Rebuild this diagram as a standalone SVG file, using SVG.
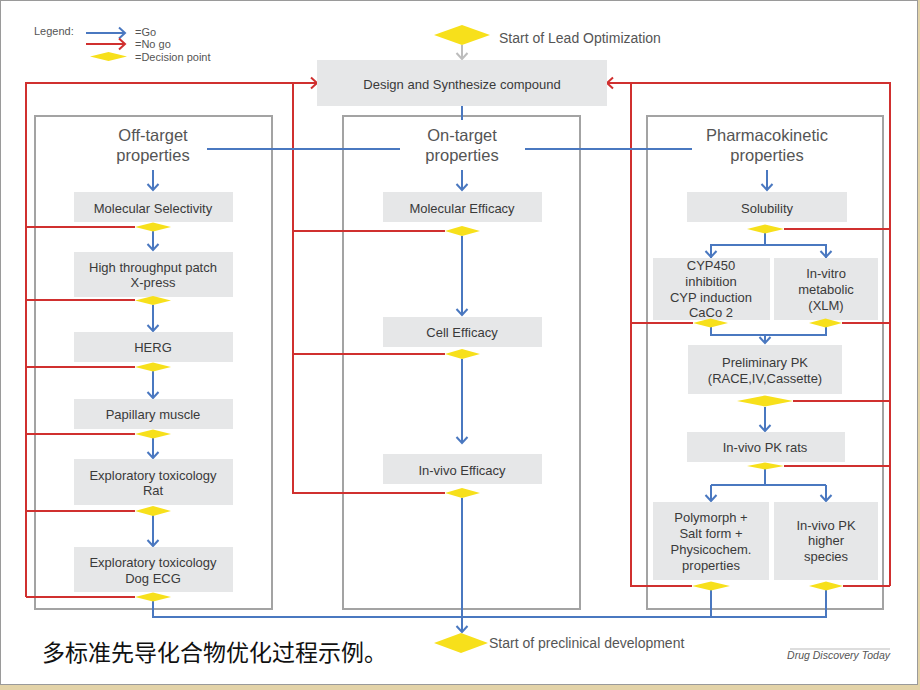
<svg xmlns="http://www.w3.org/2000/svg" width="920" height="690" viewBox="0 0 920 690">
<defs>
<style>
.box{fill:#e6e7e8;stroke:none}
.col{fill:none;stroke:#a3a3a3;stroke-width:2}
.t{font-family:"Liberation Sans",Arial,sans-serif;font-size:13px;fill:#3a3a3a;text-anchor:middle}
.h{font-family:"Liberation Sans",Arial,sans-serif;font-size:16.5px;fill:#555;text-anchor:middle}
.lg{font-family:"Liberation Sans",Arial,sans-serif;font-size:11px;fill:#555}
.big{font-family:"Liberation Sans",Arial,sans-serif;font-size:14px;fill:#555}
.dia{fill:#f7e01b;stroke:none}
.b{fill:none;stroke:#4a78c0;stroke-width:2}
.r{fill:none;stroke:#d0302f;stroke-width:2}
</style>
<marker id="ab" markerWidth="14" markerHeight="14" refX="7" refY="7" orient="auto" markerUnits="userSpaceOnUse" viewBox="0 0 14 14"><path d="M1,1.5 L7,7 L1,12.5" fill="none" stroke="#4a78c0" stroke-width="2"/></marker>
<marker id="ar" markerWidth="14" markerHeight="14" refX="7" refY="7" orient="auto" markerUnits="userSpaceOnUse" viewBox="0 0 14 14"><path d="M1,1.5 L7,7 L1,12.5" fill="none" stroke="#d0302f" stroke-width="2"/></marker>
<marker id="ag" markerWidth="14" markerHeight="14" refX="7" refY="7" orient="auto" markerUnits="userSpaceOnUse" viewBox="0 0 14 14"><path d="M1,1.5 L7,7 L1,12.5" fill="none" stroke="#bdbdbd" stroke-width="2"/></marker>
</defs>

<rect x="0" y="0" width="920" height="690" fill="#e3d3a8"/>
<rect x="0.5" y="0.5" width="917" height="684" fill="#ffffff" stroke="#9a9a9a" stroke-width="1"/>

<g id="legend">
<text class="lg" x="34" y="35">Legend:</text>
<line class="b" x1="86" y1="33" x2="125" y2="33" marker-end="url(#ab)"/>
<line class="r" x1="86" y1="44" x2="125" y2="44" marker-end="url(#ar)"/>
<polygon class="dia" points="90,56.5 108.5,52 127,56.5 108.5,61"/>
<text class="lg" x="135" y="35.5">=Go</text>
<text class="lg" x="135" y="48">=No go</text>
<text class="lg" x="135" y="60.5">=Decision point</text>
</g>

<g id="columns">
<rect class="col" x="35" y="116" width="237" height="493"/>
<rect class="col" x="343" y="116" width="237" height="493"/>
<rect class="col" x="647" y="116" width="236" height="493"/>
</g>

<g id="connectors">
<path class="r" d="M26,597 V83 H317" marker-end="url(#ar)"/>
<path class="r" d="M26,227 H135 M26,300 H135 M26,367 H135 M26,434 H135 M26,511 H135 M26,597 H135"/>
<path class="r" d="M293,83 V493 H445 M293,231 H445 M293,354 H445"/>
<path class="r" d="M890,586 V83 H607" marker-end="url(#ar)"/>
<path class="r" d="M631,83 V586 H692 M631,323 H693"/>
<path class="r" d="M784,229 H890 M842,323 H890 M793,401 H890 M784,466 H890 M843,586 H890"/>
<line x1="462" y1="45" x2="462" y2="59" stroke="#bdbdbd" stroke-width="2" marker-end="url(#ag)"/>
<path class="b" d="M462,106 V120 M207,149 H400 M525,149 H692"/>
<line class="b" x1="153" y1="170" x2="153" y2="190" marker-end="url(#ab)"/>
<line class="b" x1="153" y1="231" x2="153" y2="250" marker-end="url(#ab)"/>
<line class="b" x1="153" y1="305" x2="153" y2="331" marker-end="url(#ab)"/>
<line class="b" x1="153" y1="371" x2="153" y2="398" marker-end="url(#ab)"/>
<line class="b" x1="153" y1="438" x2="153" y2="458" marker-end="url(#ab)"/>
<line class="b" x1="153" y1="515" x2="153" y2="546" marker-end="url(#ab)"/>
<line class="b" x1="462" y1="170" x2="462" y2="190" marker-end="url(#ab)"/>
<line class="b" x1="462" y1="236" x2="462" y2="315" marker-end="url(#ab)"/>
<line class="b" x1="462" y1="359" x2="462" y2="443" marker-end="url(#ab)"/>
<line class="b" x1="462" y1="498" x2="462" y2="632" marker-end="url(#ab)"/>
<line class="b" x1="767" y1="170" x2="767" y2="190" marker-end="url(#ab)"/>
<path class="b" d="M765,233 V245 M711,258 V245 H826 V258"/>
<line class="b" x1="711" y1="245" x2="711" y2="257" marker-end="url(#ab)"/>
<line class="b" x1="826" y1="245" x2="826" y2="257" marker-end="url(#ab)"/>
<path class="b" d="M711,327 V335 H826 V327"/>
<line class="b" x1="765" y1="335" x2="765" y2="343" marker-end="url(#ab)"/>
<line class="b" x1="765" y1="407" x2="765" y2="431" marker-end="url(#ab)"/>
<path class="b" d="M765,469 V485 M711,485 H826"/>
<line class="b" x1="711" y1="485" x2="711" y2="501" marker-end="url(#ab)"/>
<line class="b" x1="826" y1="485" x2="826" y2="501" marker-end="url(#ab)"/>
<path class="b" d="M153,601 V617 H826 V590 M711,590 V617"/>
</g>

<g id="start-lead">
<polygon class="dia" points="434,35 462,25 490,35 462,45"/>
<text class="big" x="499" y="43">Start of Lead Optimization</text>
</g>

<g id="design">
<rect class="box" x="317" y="60" width="290" height="46"/>
<text class="t" x="462" y="89">Design and Synthesize compound</text>
</g>

<g id="off-target">
<text class="h" x="153" y="141">Off-target</text>
<text class="h" x="153" y="161">properties</text>
</g>
<g id="on-target">
<text class="h" x="462" y="141">On-target</text>
<text class="h" x="462" y="161">properties</text>
</g>
<g id="pk">
<text class="h" x="767" y="141">Pharmacokinetic</text>
<text class="h" x="767" y="161">properties</text>
</g>

<g id="mol-selectivity">
<rect class="box" x="74" y="192" width="159" height="30"/>
<text class="t" x="153" y="213">Molecular Selectivity</text>
<polygon class="dia" points="135,227 153,222.5 171,227 153,231.5"/>
</g>
<g id="htp">
<rect class="box" x="74" y="252" width="159" height="45"/>
<text class="t" x="153" y="272">High throughput patch</text>
<text class="t" x="153" y="287">X-press</text>
<polygon class="dia" points="135,300.5 153,296 171,300.5 153,305"/>
</g>
<g id="herg">
<rect class="box" x="74" y="332" width="159" height="30"/>
<text class="t" x="153" y="352">HERG</text>
<polygon class="dia" points="135,367 153,362.5 171,367 153,371.5"/>
</g>
<g id="papillary">
<rect class="box" x="74" y="399" width="159" height="30"/>
<text class="t" x="153" y="419">Papillary muscle</text>
<polygon class="dia" points="135,434 153,429.5 171,434 153,438.5"/>
</g>
<g id="tox-rat">
<rect class="box" x="74" y="459" width="159" height="46"/>
<text class="t" x="153" y="480">Exploratory toxicology</text>
<text class="t" x="153" y="495">Rat</text>
<polygon class="dia" points="135,511 153,506 171,511 153,516"/>
</g>
<g id="tox-dog">
<rect class="box" x="74" y="547" width="159" height="45"/>
<text class="t" x="153" y="567">Exploratory toxicology</text>
<text class="t" x="153" y="583">Dog ECG</text>
<polygon class="dia" points="135,597 153,592.5 171,597 153,601.5"/>
</g>

<g id="mol-efficacy">
<rect class="box" x="383" y="192" width="159" height="30"/>
<text class="t" x="462" y="213">Molecular Efficacy</text>
<polygon class="dia" points="445,231 462,226 480,231 462,236"/>
</g>
<g id="cell-efficacy">
<rect class="box" x="383" y="317" width="159" height="30"/>
<text class="t" x="462" y="337">Cell Efficacy</text>
<polygon class="dia" points="445,354 462,349 480,354 462,359"/>
</g>
<g id="invivo-efficacy">
<rect class="box" x="383" y="454" width="159" height="30"/>
<text class="t" x="462" y="475">In-vivo Efficacy</text>
<polygon class="dia" points="445,493 462,488 480,493 462,498"/>
</g>

<g id="solubility">
<rect class="box" x="687" y="192" width="160" height="30"/>
<text class="t" x="767" y="213">Solubility</text>
<polygon class="dia" points="747,229 765,224.5 784,229 765,233.5"/>
</g>
<g id="cyp">
<rect class="box" x="653" y="258" width="117" height="62"/>
<text class="t" x="711" y="270">CYP450</text>
<text class="t" x="711" y="286">inhibition</text>
<text class="t" x="711" y="302">CYP induction</text>
<text class="t" x="711" y="317">CaCo 2</text>
<polygon class="dia" points="693,323 710.5,318.5 728,323 710.5,327.5"/>
</g>
<g id="invitro">
<rect class="box" x="774" y="258" width="104" height="62"/>
<text class="t" x="826" y="278">In-vitro</text>
<text class="t" x="826" y="294">metabolic</text>
<text class="t" x="826" y="310">(XLM)</text>
<polygon class="dia" points="809,323 825.5,318.5 842,323 825.5,327.5"/>
</g>
<g id="prelim-pk">
<rect class="box" x="688" y="345" width="154" height="49"/>
<text class="t" x="765" y="367">Preliminary PK</text>
<text class="t" x="765" y="383">(RACE,IV,Cassette)</text>
<polygon class="dia" points="737,401 765,395.5 793,401 765,406.5"/>
</g>
<g id="pk-rats">
<rect class="box" x="687" y="432" width="158" height="30"/>
<text class="t" x="765" y="452">In-vivo PK rats</text>
<polygon class="dia" points="747,466 765,462.5 784,466 765,469.5"/>
</g>
<g id="polymorph">
<rect class="box" x="653" y="502" width="116" height="78"/>
<text class="t" x="711" y="522">Polymorph +</text>
<text class="t" x="711" y="538">Salt form +</text>
<text class="t" x="711" y="554">Physicochem.</text>
<text class="t" x="711" y="570">properties</text>
<polygon class="dia" points="692,586 711,581.5 730,586 711,590.5"/>
</g>
<g id="pk-higher">
<rect class="box" x="774" y="502" width="104" height="78"/>
<text class="t" x="826" y="530">In-vivo PK</text>
<text class="t" x="826" y="545">higher</text>
<text class="t" x="826" y="561">species</text>
<polygon class="dia" points="809,586 826,581.5 843,586 826,590.5"/>
</g>

<g id="start-preclinical">
<polygon class="dia" points="434,643 461,633 488,643 461,653"/>
<text class="big" x="489" y="648">Start of preclinical development</text>
</g>

<text x="42" y="661" font-family="'Noto Sans CJK SC',sans-serif" font-size="23" fill="#111">多标准先导化合物优化过程示例。</text>
<line x1="790" y1="649" x2="890" y2="649" stroke="#aaa" stroke-width="0.8"/>
<text x="890" y="659" text-anchor="end" font-family="'Liberation Sans',Arial,sans-serif" font-size="10.5" font-style="italic" fill="#555">Drug Discovery Today</text>
</svg>
